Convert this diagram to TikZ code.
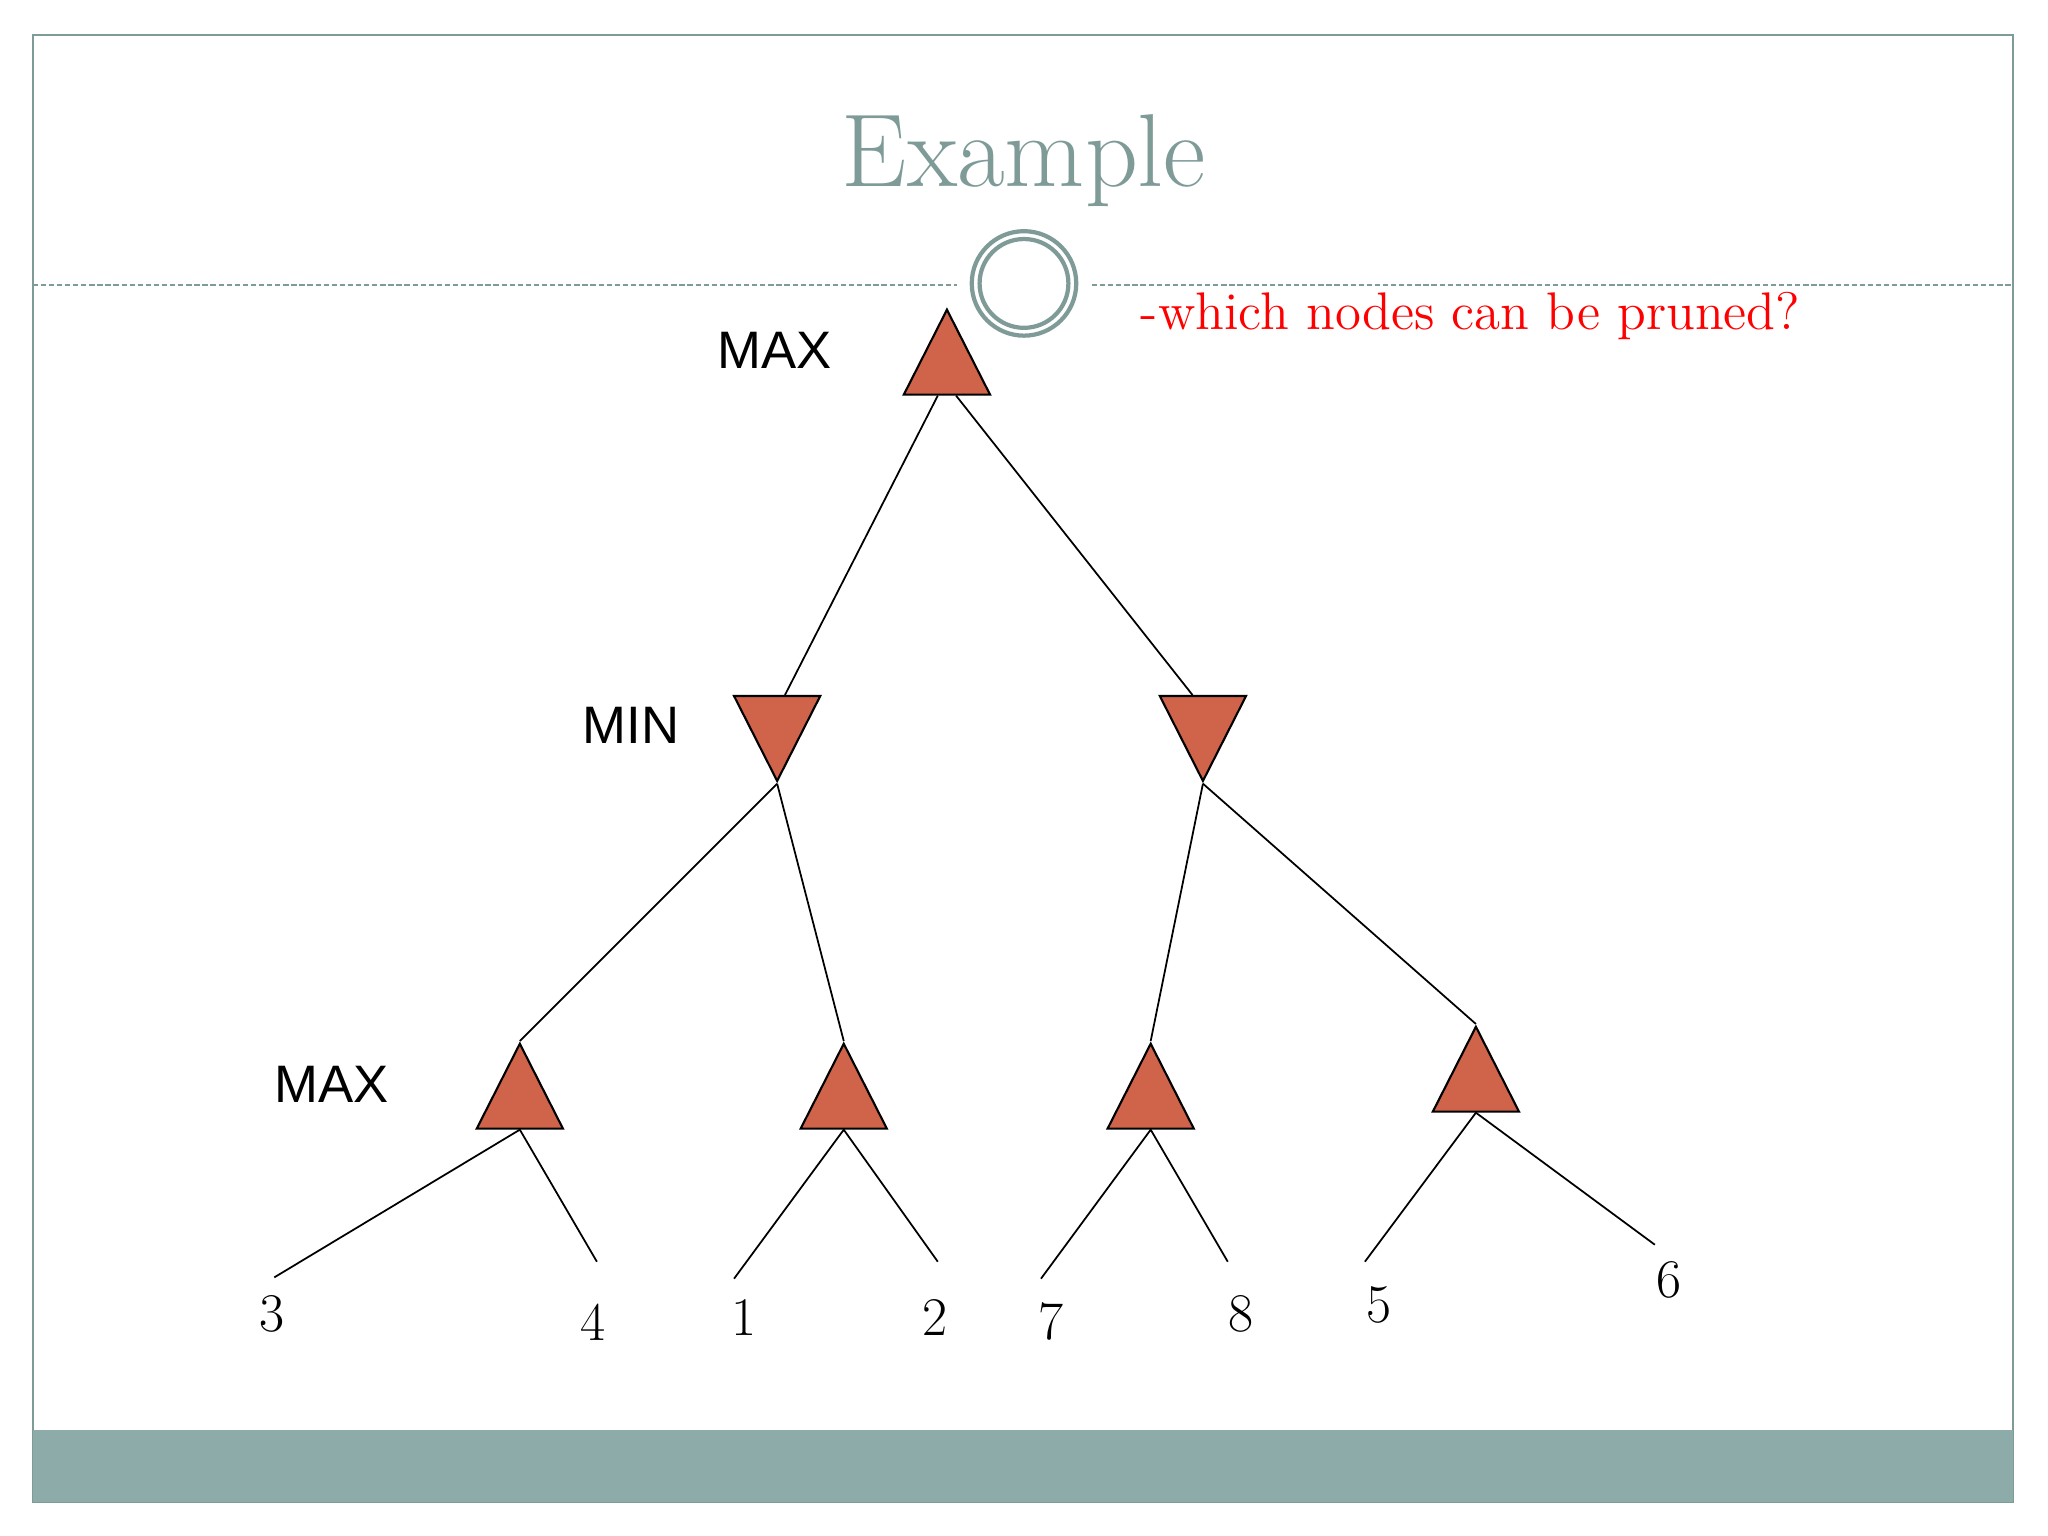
\documentclass[tikz,border=0pt]{standalone}
\usepackage{graphicx}
\usepackage{fontspec}
\newfontfamily\arialfont{Liberation Sans}
\usetikzlibrary{shapes.geometric, calc}
\definecolor{slidegray}{HTML}{7F9B98}
\definecolor{bargray}{HTML}{8DACA9}
\definecolor{trired}{HTML}{D0644A}
\tikzset{
  maxtri/.style={isosceles triangle, isosceles triangle stretches, shape border rotate=90,
    draw, line width=0.6pt, fill=trired, inner sep=0pt, minimum width=0.862cm, minimum height=0.849cm, anchor=apex},
  mintri/.style={maxtri, shape border rotate=270},
  lvl/.style={font=\arialfont\fontsize{15}{18}\selectfont},
  leaf/.style={inner sep=0pt, font=\fontsize{15.5}{18}\selectfont},
  edge/.style={line width=0.5pt}
}
\begin{document}
\begin{tikzpicture}[x=0.013061cm, y=-0.013061cm]
  \useasboundingbox (0,0) rectangle (1568,1176);
  \draw[slidegray, line width=0.6pt] (25,27) rectangle (1541,1150); %枠
  \fill[bargray] (25,1095) rectangle (1541,1150); %下の帯
  \node[text=slidegray, font=\fontsize{29.5}{34}\selectfont] (title) at (784,123) {Example};
  \draw[slidegray, line width=0.5pt, dash pattern=on 1.5pt off 0.8pt] (25,218)--(733,218); %点線
  \draw[slidegray, line width=0.5pt, dash pattern=on 1.5pt off 0.8pt] (836,218)--(1541,218);
  \draw[slidegray, line width=1.2pt, fill=white] (784,217) circle[radius=40]; %二重丸
  \draw[slidegray, line width=1.2pt] (784,217) circle[radius=34];
  \node[red, anchor=west, font=\fontsize{14.7}{18}\selectfont] (ques) at (864,242) {\scalebox{1.024}{-which nodes can be pruned?}};
  % 木
  \node[maxtri] (rt) at (725,235) {}; %根
  \node[mintri] (minl) at (595,600) {};
  \node[mintri] (minr) at (921,600) {};
  \node[maxtri] (mx1) at (398,797) {};
  \node[maxtri] (mx2) at (646,797) {};
  \node[maxtri] (mx3) at (881,797) {};
  \node[maxtri] (mx4) at (1130,784) {};
  \node[lvl] (lmax1) at (593,268) {MAX};
  \node[lvl] (lmin) at (483,555) {MIN};
  \node[lvl] (lmax2) at (254,830) {MAX};
  \draw[edge] ($(rt.lower side)+(-7,0)$)--($(minl.lower side)+(6,0)$);
  \draw[edge] ($(rt.lower side)+(7,0)$)--($(minr.lower side)+(-8,0)$);
  \draw[edge] (minl.apex)--(mx1.apex);
  \draw[edge] (minl.apex)--(mx2.apex);
  \draw[edge] (minr.apex)--(mx3.apex);
  \draw[edge] (minr.apex)--(mx4.apex);
  % 葉
  \coordinate (e3) at (210,978);
  \coordinate (e4) at (457,966);
  \coordinate (e1) at (562,979);
  \coordinate (e2) at (718,966);
  \coordinate (e7) at (797,979);
  \coordinate (e8) at (940,966);
  \coordinate (e5) at (1045,966);
  \coordinate (e6) at (1267,953);
  \draw[edge] (e3)--(mx1.lower side)--(e4);
  \draw[edge] (e1)--(mx2.lower side)--(e2);
  \draw[edge] (e7)--(mx3.lower side)--(e8);
  \draw[edge] (e5)--(mx4.lower side)--(e6);
  \node[leaf] (v3) at (208,1006) {\oldstylenums{3}};
  \node[leaf] (v4) at (454,1012) {\oldstylenums{4}};
  \node[leaf] (v1) at (570,1009) {\oldstylenums{1}};
  \node[leaf] (v2) at (716,1009) {\oldstylenums{2}};
  \node[leaf] (v7) at (805,1012) {\oldstylenums{7}};
  \node[leaf] (v8) at (950,1006) {\oldstylenums{8}};
  \node[leaf] (v5) at (1056,999) {\oldstylenums{5}};
  \node[leaf] (v6) at (1278,980) {\oldstylenums{6}};
\end{tikzpicture}
\end{document}
